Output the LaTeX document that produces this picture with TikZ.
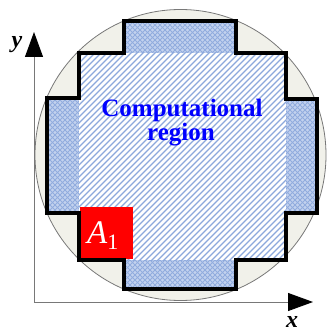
\documentclass[tikz,border=0pt]{standalone}
\usepackage{fontspec}
\setmainfont{Liberation Serif}
\usetikzlibrary{arrows.meta}
\definecolor{beige}{RGB}{241,241,234}
\definecolor{hatchblue}{RGB}{140,168,220}
\definecolor{gridbg}{RGB}{195,210,238}
\definecolor{gridline}{RGB}{145,172,222}
\definecolor{axisgray}{RGB}{120,120,120}
\definecolor{areared}{RGB}{255,0,0}
\definecolor{textblue}{RGB}{0,0,255}
\begin{document}
\begin{tikzpicture}[x=1pt,y=-1pt,
  hatchline/.style={hatchblue,line width=1.3pt},
  gridl/.style={gridline,line width=0.8pt},
  stairs/.style={black,line width=3.2pt,line join=miter},
  axis/.style={axisgray,line width=0.9pt,-{Triangle[length=25pt,width=18pt,black]}},
  lbl/.style={font=\fontsize{24}{24}\selectfont\bfseries\itshape,anchor=base,inner sep=0pt},
  ctext/.style={font=\fontsize{25}{25}\selectfont\bfseries,text=textblue,anchor=base,inner sep=0pt}]
\useasboundingbox (0,0) rectangle (326,331);
% axes
\coordinate (O) at (34,302);
\coordinate (Ytip) at (34,32);
\coordinate (Xtip) at (313,302);
\draw[axis] (O) -- (Ytip);
\draw[axis] (O) -- (Xtip);
% circle
\path[fill=beige,draw=axisgray,line width=0.8pt] (180.5,155) circle[radius=145.5];
% cross-hatched strips
\foreach \a/\b/\c/\d in {124/21/236/53, 124/260/236/289, 47/98/79/213, 286/99/317/213} {
  \begin{scope}
    \clip (\a,\b) rectangle (\c,\d);
    \fill[gridbg] (\a,\b) rectangle (\c,\d);
    \foreach \k in {100,105,...,650} {
      \draw[gridl] (\k,0) -- (0,\k);
      \draw[gridl] (\k-400,0) -- (\k,400);
    }
  \end{scope}
}
% central hatched region
\begin{scope}
  \clip (79,53) rectangle (286,260);
  \fill[white] (79,53) rectangle (286,260);
  \foreach \k in {130,136,...,550} \draw[hatchline] (\k,0) -- (0,\k);
\end{scope}
% red square
\node[fill=areared,minimum width=53pt,minimum height=52pt,inner sep=0pt] (A1) at (106.5,233) {};
\node[anchor=base west,inner sep=0pt,text=white,font=\fontsize{33}{33}\selectfont] (A1lab) at (87,243)
  {\itshape A\raisebox{-6pt}{\upshape\fontsize{22}{22}\selectfont 1}};
% staircase outline
\draw[stairs] (124,21) -- (236,21) -- (236,53) -- (286,53) -- (286,99) -- (317,99)
  -- (317,213) -- (286,213) -- (286,260) -- (236,260) -- (236,289) -- (124,289)
  -- (124,260) -- (79,260) -- (79,213) -- (47,213) -- (47,98) -- (79,98)
  -- (79,53) -- (124,53) -- cycle;
% labels
\node[lbl] (ylab) at (17,48) {y};
\node[lbl] (xlab) at (292,327) {x};
\node[ctext] (t1) at (182,117) {Computational};
\node[ctext] (t2) at (181,140) {region};
\end{tikzpicture}
\end{document}
